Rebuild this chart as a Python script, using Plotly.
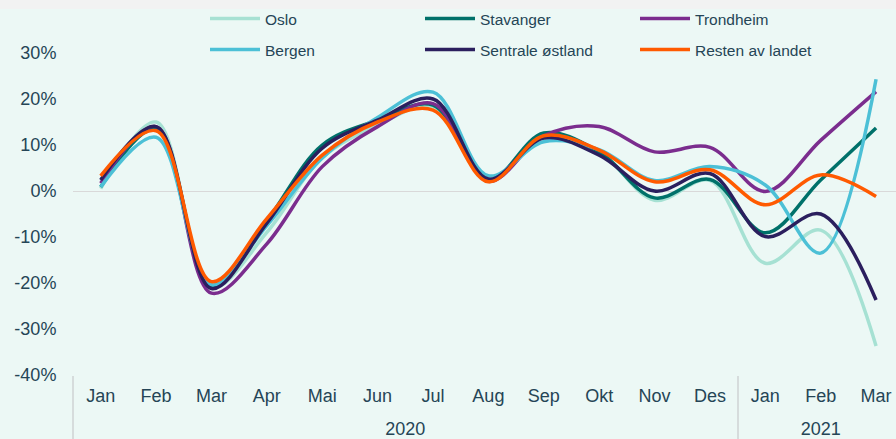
import plotly.graph_objects as go

months = ["Jan", "Feb", "Mar", "Apr", "Mai", "Jun", "Jul", "Aug", "Sep", "Okt", "Nov", "Des",
          "Jan", "Feb", "Mar"]
years = ["2020"] * 12 + ["2021"] * 3

oslo = [0.5, 15.0, -21.0, -9.0, 7.2, 14.3, 18.3, 2.3, 11.5, 8.5, -2.0, 2.3, -15.7, -8.5, -33.7]
stavanger = [0.9, 13.5, -20.8, -6.5, 10.0, 15.4, 18.7, 2.3, 12.6, 8.5, -1.5, 2.5, -9.1, 2.4, 13.7]
trondheim = [1.7, 14.0, -22.2, -11.5, 5.3, 14.0, 19.0, 2.1, 12.0, 14.0, 8.5, 9.5, -0.1, 11.0, 21.6]
bergen = [0.9, 11.7, -20.4, -7.5, 7.2, 16.0, 21.5, 3.3, 10.7, 9.0, 2.3, 5.3, 1.3, -13.5, 24.3]
sentrale = [2.4, 14.0, -21.2, -7.0, 9.3, 15.4, 20.0, 2.6, 11.5, 7.8, 0.0, 3.8, -9.9, -5.0, -23.7]
resten = [3.3, 13.1, -19.7, -6.0, 7.8, 15.0, 17.6, 2.0, 12.0, 8.9, 2.0, 4.6, -3.0, 3.5, -1.2]

series_names = ["Oslo", "Stavanger", "Trondheim", "Bergen", "Sentrale østland", "Resten av landet"]
series_values = [oslo, stavanger, trondheim, bergen, sentrale, resten]
colors = ["#a6e1d3", "#00716a", "#7b2d8e", "#4cc0d6", "#2b1f5e", "#ff5a00"]
legend_ids = ["legend", "legend", "legend", "legend2", "legend2", "legend2"]
# overlaid x axes (same range) carry the year labels and the year dividers
x_axes = ["x", "x", "x", "x2", "x2", "x3"]

y_ticks = [-40, -30, -20, -10, 0, 10, 20, 30]
y_labels = ["-40%", "-30%", "-20%", "-10%", "0%", "10%", "20%", "30%"]

text_color = "#254556"
bg = "#ecf8f5"

# category positions derived from the month list
xpos = list(range(len(months)))
year_names = []
for yv in years:
    if yv not in year_names:
        year_names.append(yv)
year_centers = []
year_bounds = []
for yn in year_names:
    idx = [i for i, yv in enumerate(years) if yv == yn]
    year_centers.append(sum(idx) / len(idx))
    year_bounds.append(idx[0] - 0.5)

fig = go.Figure()
for name, vals, col, lg, xa in zip(series_names, series_values, colors, legend_ids, x_axes):
    fig.add_trace(go.Scatter(
        x=xpos, y=vals, name=name, mode="lines", xaxis=xa, yaxis="y",
        line=dict(color=col, width=3.5, shape="spline", smoothing=1.0),
        legend=lg,
    ))

W, H = 896, 439
ml, mr, mt, mb = 73, 0, 9, 64
pw = W - ml - mr
ph = H - mt - mb

def px_x(p):
    return (p - ml) / pw

def px_y(p):
    return 1 - (p - mt) / ph

xrange = [-0.5, 14.36]

legend_common = dict(orientation="h", xanchor="left", yanchor="middle",
                     bgcolor="rgba(0,0,0,0)", font=dict(size=15.5, color=text_color),
                     entrywidth=150, entrywidthmode="pixels", itemwidth=50)

fig.update_layout(
    width=W, height=H,
    margin=dict(l=ml, r=mr, t=mt, b=mb),
    paper_bgcolor=bg, plot_bgcolor=bg,
    font=dict(family="Liberation Sans, Arial, sans-serif", color=text_color, size=18),
    showlegend=True,
    legend=dict(x=px_x(205), y=px_y(19), **legend_common),
    legend2=dict(x=px_x(205), y=px_y(50), **legend_common),
    xaxis=dict(range=xrange, tickvals=xpos, ticktext=months, showgrid=False, showline=False,
               zeroline=False, ticks="outside", ticklen=4, tickcolor="rgba(0,0,0,0)",
               tickfont=dict(size=18, color=text_color), automargin=False),
    xaxis2=dict(range=xrange, matches="x", overlaying="x", anchor="y", side="bottom",
                tickvals=year_centers, ticktext=year_names, showgrid=False, showline=False,
                zeroline=False, ticks="outside", ticklen=37, tickcolor="rgba(0,0,0,0)",
                tickfont=dict(size=18, color=text_color), automargin=False),
    xaxis3=dict(range=xrange, matches="x", overlaying="x", anchor="y", side="bottom",
                tickvals=year_bounds, showticklabels=False, showgrid=False, showline=False,
                zeroline=False, ticks="outside", ticklen=64, tickwidth=2,
                tickcolor="#d6dcdc", automargin=False),
    yaxis=dict(range=[-40, 30 + 44 / 4.6], tickvals=y_ticks, ticktext=y_labels,
               showgrid=False, zeroline=True, zerolinecolor="#d9d9d9", zerolinewidth=1,
               ticks="outside", ticklen=12, tickcolor="rgba(0,0,0,0)",
               tickfont=dict(size=18, color=text_color), automargin=False),
    shapes=[dict(type="rect", xref="paper", yref="paper", x0=-ml / pw, x1=1.0,
                 y0=1.0, y1=1 + mt / ph, fillcolor="#f2f2f2", line=dict(width=0), layer="above")],
)

fig.write_html("out.html", config={"displayModeBar": False},
               post_script="document.body.style.margin='0px';")
